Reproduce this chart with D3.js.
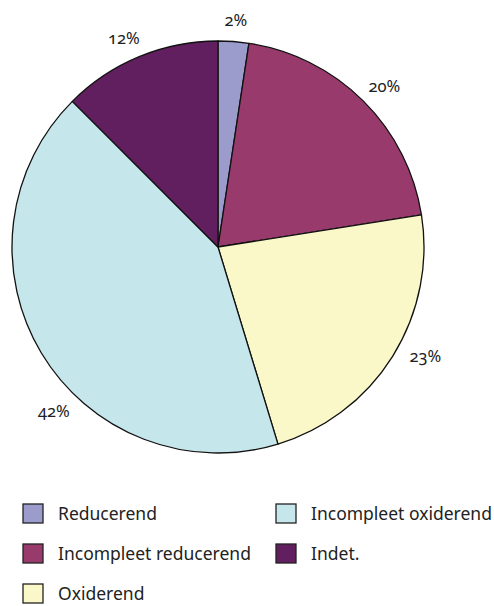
<!DOCTYPE html>
<html>
<head>
<meta charset="utf-8">
<script src="https://cdn.jsdelivr.net/npm/d3@7"></script>
<style>
  html, body { margin: 0; padding: 0; background: #fff; }
  svg { display: block; font-family: "Noto Sans", "Open Sans", sans-serif; }
  .num { font-variant-numeric: oldstyle-nums; }
</style>
</head>
<body>
<svg id="chart" width="494" height="606"></svg>
<script>
const categories = ["Reducerend", "Incompleet reducerend", "Oxiderend", "Incompleet oxiderend", "Indet."];
const values = [2.4, 20.1, 22.8, 42.2, 12.5];
const valueLabels = ["2%", "20%", "23%", "42%", "12%"];
const colors = ["#9b9bcc", "#983b6c", "#faf7c8", "#c5e6ea", "#621f5f"];
const legendOrder = [0, 3, 1, 4, 2];

const svg = d3.select("#chart");
const cx = 218, cy = 247, R = 206;

const pie = d3.pie().sort(null).value(d => d)(values);
const arc = d3.arc().innerRadius(0).outerRadius(R);

const g = svg.append("g").attr("transform", `translate(${cx},${cy})`);
g.selectAll("path").data(pie).join("path")
  .attr("d", arc)
  .attr("fill", (d, i) => colors[i])
  .attr("stroke", "#111")
  .attr("stroke-width", 1.3)
  .attr("stroke-linejoin", "round");

// labels outside
const labelNudge = [0, 0, -3.5, -15, -1]; // degrees
g.selectAll("text.lbl").data(pie).join("text")
  .attr("class", "lbl num")
  .attr("font-size", 16.5)
  .attr("fill", "#222")
  .attr("text-anchor", "middle")
  .attr("dominant-baseline", "central")
  .each(function(d, i) {
    const a = (d.startAngle + d.endAngle) / 2 + labelNudge[i] * Math.PI / 180;
    const rr = R + 14;
    const s = Math.sin(a), c = -Math.cos(a);
    const x = rr * s + 16 * s;
    const y = rr * c + 8 * c;
    d3.select(this).attr("x", x).attr("y", y).text(valueLabels[i]);
  });

// legend
const colX = [23, 276];
const rowY = [504, 544, 584];
const lg = svg.append("g");
legendOrder.forEach((idx, k) => {
  const col = k % 2, row = Math.floor(k / 2);
  const x = colX[col], y = rowY[row];
  lg.append("rect").attr("x", x).attr("y", y).attr("width", 20).attr("height", 19)
    .attr("fill", colors[idx]).attr("stroke", "#222").attr("stroke-width", 1.3);
  lg.append("text").attr("x", x + 35).attr("y", y + 16)
    .attr("font-size", 17.5).attr("fill", "#222").text(categories[idx]);
});
</script>
</body>
</html>
